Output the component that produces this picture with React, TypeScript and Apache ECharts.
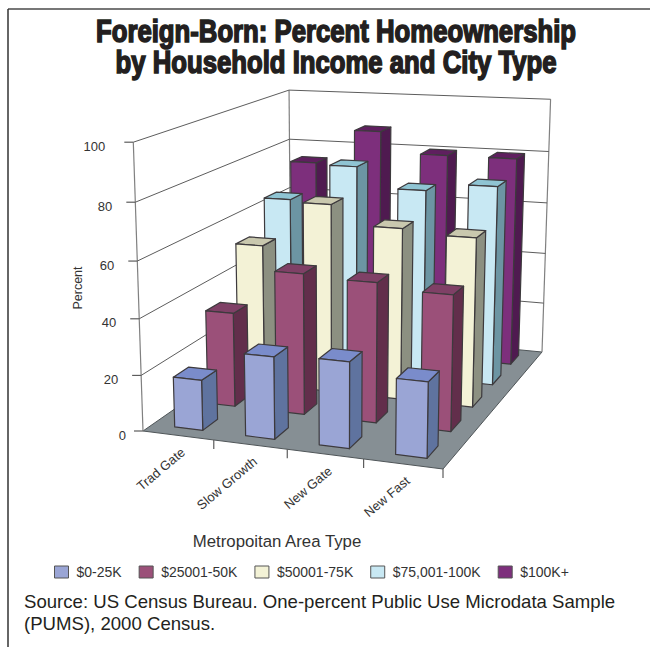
import React, { useEffect, useRef } from "react";
import * as echarts from "echarts";

const categories = ["Trad Gate", "Slow Growth", "New Gate", "New Fast"];
const incomeGroups = ["$0-25K", "$25001-50K", "$50001-75K", "$75,001-100K", "$100K+"];
const low = [18, 29, 30, 26];
const lowerMiddle = [34.5, 51, 50, 48];
const middle = [53, 70, 63, 61.5];
const upperMiddle = [65, 79, 71.5, 74.5];
const high = [74.5, 88, 80, 80];
const seriesValues = [low, lowerMiddle, middle, upperMiddle, high];
const valueTicks = [0, 20, 40, 60, 80, 100];

const faceColors = [
  { front: "#9aa5d5", top: "#7a8ccb", side: "#5f739f" },
  { front: "#9b5079", top: "#7f4066", side: "#622e4b" },
  { front: "#f3f2d6", top: "#c9c8ae", side: "#8c9081" },
  { front: "#c8e8f3", top: "#8fc4d3", side: "#6c95a3" },
  { front: "#7d2f7c", top: "#5f1f5f", side: "#4f1a50" },
];

const FONT = "'Liberation Sans', Arial, sans-serif";
const TEXT = "#333333";

type Pt = [number, number];

// Unit square to quadrilateral perspective map; also returns the homogeneous divisor.
function quadMap(p0: Pt, p1: Pt, p2: Pt, p3: Pt) {
  const dx1 = p1[0] - p2[0], dx2 = p3[0] - p2[0], sx = p0[0] - p1[0] + p2[0] - p3[0];
  const dy1 = p1[1] - p2[1], dy2 = p3[1] - p2[1], sy = p0[1] - p1[1] + p2[1] - p3[1];
  const den = dx1 * dy2 - dx2 * dy1;
  const g = (sx * dy2 - dx2 * sy) / den;
  const h = (dx1 * sy - sx * dy1) / den;
  const a = p1[0] - p0[0] + g * p1[0], b = p3[0] - p0[0] + h * p3[0], c = p0[0];
  const d = p1[1] - p0[1] + g * p1[1], e = p3[1] - p0[1] + h * p3[1], f = p0[1];
  return (u: number, w: number) => {
    const q = g * u + h * w + 1;
    return { x: (a * u + b * w + c) / q, y: (d * u + e * w + f) / q, q };
  };
}

// Floor of the plot box: front-left, front-right, back-right, back-left.
const floorAt = quadMap([143, 431], [443, 469], [542, 352], [291, 328]);
// Vertical vanishing point, and the strength of full-scale height.
const VANISH: Pt = [340, 6300];
const HEIGHT_SCALE = -0.0469;

// u runs along the categories, v up the value axis, w back through the income groups.
function project(u: number, v: number, w: number): Pt {
  const p = floorAt(u, w);
  const s = (HEIGHT_SCALE * v) / p.q;
  return [(p.x + s * VANISH[0]) / (1 + s), (p.y + s * VANISH[1]) / (1 + s)];
}

const lineEl = (a: Pt, b: Pt, stroke: string, lineWidth = 1) => ({
  type: "line",
  shape: { x1: a[0], y1: a[1], x2: b[0], y2: b[1] },
  style: { stroke, lineWidth },
});

const face = (points: Pt[], fill: string) => ({
  type: "polygon",
  shape: { points },
  style: { fill, stroke: "#3d3a3d", lineWidth: 1.2, lineJoin: "round" },
});

const GRID_LINE = "#5c5c5c";
const FRAME_LINE = "#808080";

// Walls, floor, value gridlines and value labels.
function renderWalls(params: any, api: any) {
  const tick = api.value(1);
  const cs = params.coordSys;
  const v = 1 - (api.coord([0, tick])[1] - cs.y) / cs.height;
  const children: any[] = [];
  if (params.dataIndex === 0) {
    children.push({
      type: "polygon",
      shape: { points: [project(0, 0, 0), project(1, 0, 0), project(1, 0, 1), project(0, 0, 1)] },
      style: { fill: "#868f94", stroke: "#4f5558", lineWidth: 1 },
    });
    children.push(lineEl(project(0, 0, 0), project(0, 1, 0), FRAME_LINE, 1.2));
    children.push(lineEl(project(0, 0, 1), project(0, 1, 1), FRAME_LINE, 1.2));
    children.push(lineEl(project(1, 0, 1), project(1, 1, 1), FRAME_LINE, 1.2));
  }
  const front = project(0, v, 0);
  const back = project(0, v, 1);
  const right = project(1, v, 1);
  if (tick > 0) {
    children.push(lineEl(front, back, GRID_LINE));
    children.push(lineEl(back, right, GRID_LINE));
  }
  children.push(lineEl([front[0] - 9, front[1]], front, GRID_LINE, 1.2));
  const label = String(tick);
  const shift = label.length === 3 ? 28 : label.length === 1 ? 17 : 23;
  children.push({
    type: "text",
    x: front[0] - shift,
    y: front[1] + 4,
    style: { text: label, align: "right", verticalAlign: "middle", font: `13px ${FONT}`, fill: TEXT },
  });
  return { type: "group", children };
}

// Category ticks and slanted labels along the front edge of the floor.
function renderCategoryAxis(params: any, api: any) {
  const idx = api.value(0);
  const cs = params.coordSys;
  const band = api.size([1, 0])[0] / cs.width;
  const centre = (api.coord([idx, 0])[0] - cs.x) / cs.width;
  const edge = centre + band / 2;
  const a = project(edge, 0, 0);
  const mid = project(centre, 0, 0);
  return {
    type: "group",
    children: [
      lineEl(a, [a[0], a[1] + 9], GRID_LINE, 1.2),
      {
        type: "text",
        x: mid[0] + 5,
        y: mid[1] + 15,
        rotation: (40 * Math.PI) / 180,
        style: { text: categories[idx], align: "right", verticalAlign: "middle", font: `13px ${FONT}`, fill: TEXT },
      },
    ],
  };
}

// One extruded bar; row is the income group's slot running back through the box.
function renderBar(row: number) {
  return (params: any, api: any) => {
    const idx = api.value(0);
    const cs = params.coordSys;
    const [px, py] = api.coord([idx, api.value(1)]);
    const band = api.size([1, 0])[0] / cs.width;
    const u = (px - cs.x) / cs.width + 0.004;
    const v = 1 - (py - cs.y) / cs.height;
    const x0 = u - band * 0.2;
    const x1 = u + band * 0.2;
    const z0 = (row + 0.5) / incomeGroups.length - 0.045;
    const z1 = (row + 0.5) / incomeGroups.length + 0.045;
    const c = faceColors[row];
    return {
      type: "group",
      children: [
        face([project(x1, 0, z0), project(x1, 0, z1), project(x1, v, z1), project(x1, v, z0)], c.side),
        face([project(x0, v, z0), project(x1, v, z0), project(x1, v, z1), project(x0, v, z1)], c.top),
        face([project(x0, 0, z0), project(x1, 0, z0), project(x1, v, z0), project(x0, v, z0)], c.front),
      ],
    };
  };
}

const titleLine = (text: string, y: number) => ({
  type: "text",
  x: 336,
  y,
  scaleX: 0.83,
  style: {
    text,
    align: "center",
    verticalAlign: "middle",
    font: `bold 31px ${FONT}`,
    fill: "#231f20",
    stroke: "#231f20",
    lineWidth: 1.6,
  },
});

export default function App() {
  const ref = useRef<HTMLDivElement>(null);
  useEffect(() => {
    document.body.style.margin = "0";
    const chart = echarts.init(ref.current!, undefined, { renderer: "svg" });
    chart.setOption({
      animation: false,
      backgroundColor: "#ffffff",
      legend: {
        left: 49,
        top: 560,
        itemWidth: 14,
        itemHeight: 12,
        itemGap: 17,
        textStyle: { fontFamily: FONT, fontSize: 14, color: TEXT, padding: [0, 0, 0, 3] },
        data: incomeGroups.map((name, i) => ({
          name,
          icon: "rect",
          itemStyle: { color: faceColors[i].front, borderColor: "#555555", borderWidth: 1 },
        })),
      },
      grid: { left: 0, top: 0, width: 650, height: 647 },
      xAxis: { type: "category", data: categories, show: false },
      yAxis: { type: "value", min: 0, max: 100, show: false },
      series: [
        {
          type: "custom",
          name: "walls",
          z: 1,
          silent: true,
          clip: false,
          renderItem: renderWalls,
          encode: { x: 0, y: 1 },
          data: valueTicks.map((t) => [0, t]),
        },
        {
          type: "custom",
          name: "categories",
          z: 1,
          silent: true,
          clip: false,
          renderItem: renderCategoryAxis,
          encode: { x: 0, y: 1 },
          data: categories.map((_, i) => [i, 0]),
        },
        ...incomeGroups.map((name, row) => ({
          type: "custom",
          name,
          z: 10 - row,
          silent: true,
          clip: false,
          renderItem: renderBar(row),
          encode: { x: 0, y: 1 },
          itemStyle: { color: faceColors[row].front },
          data: seriesValues[row].map((v, i) => [i, v]),
        })),
      ],
      graphic: [
        titleLine("Foreign-Born: Percent Homeownership", 31),
        titleLine("by Household Income and City Type", 62),
        { type: "line", shape: { x1: 8, y1: 9, x2: 650, y2: 9 }, style: { stroke: "#4a4a4a", lineWidth: 1.5 } },
        { type: "line", shape: { x1: 8, y1: 9, x2: 8, y2: 647 }, style: { stroke: "#333333", lineWidth: 1.5 } },
        {
          type: "text",
          x: 78,
          y: 288,
          rotation: Math.PI / 2,
          style: { text: "Percent", align: "center", verticalAlign: "middle", font: `12.5px ${FONT}`, fill: TEXT },
        },
        {
          type: "text",
          x: 277,
          y: 541,
          style: { text: "Metropoitan Area Type", align: "center", verticalAlign: "middle", font: `16.8px ${FONT}`, fill: TEXT },
        },
        {
          type: "text",
          x: 24,
          y: 591,
          style: {
            text: "Source: US Census Bureau. One-percent Public Use Microdata Sample\n(PUMS), 2000 Census.",
            font: `18.6px ${FONT}`,
            lineHeight: 21.5,
            fill: "#231f20",
          },
        },
      ],
    });
    return () => chart.dispose();
  }, []);
  return <div ref={ref} style={{ position: "absolute", left: 0, top: 0, width: 650, height: 647 }} />;
}
